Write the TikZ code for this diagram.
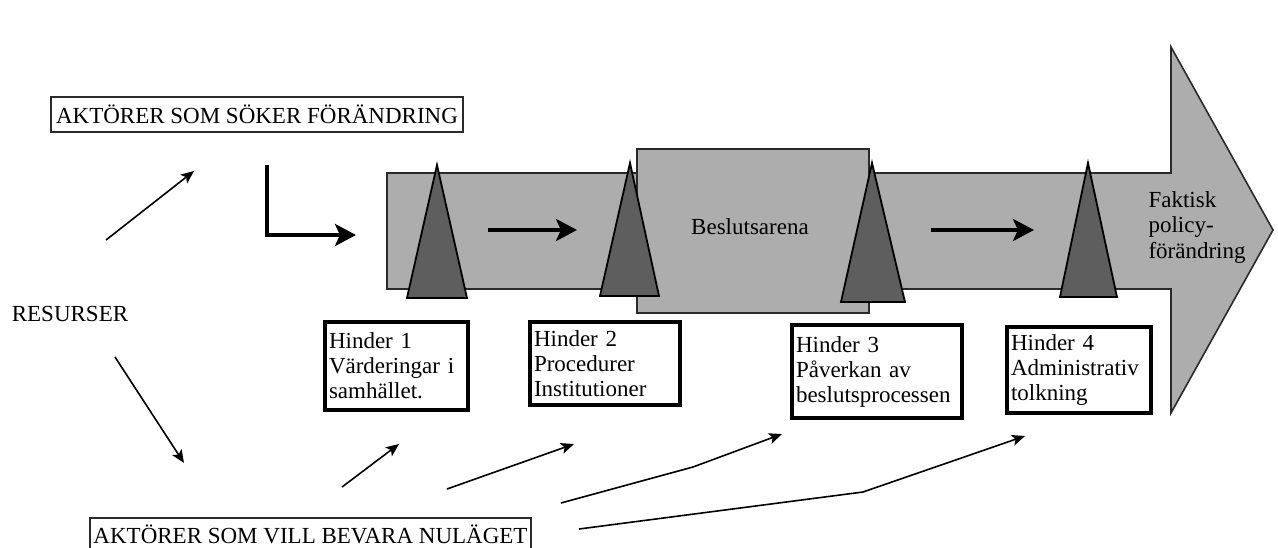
\documentclass[tikz,border=0pt]{standalone}
\usepackage{fontspec}
\setmainfont{Liberation Serif}
\usetikzlibrary{arrows.meta}
\definecolor{lgray}{HTML}{ADADAD}
\definecolor{dgray}{HTML}{5E5E5E}
\definecolor{edge}{HTML}{2A2A2A}
\tikzset{
  bigarrow/.style={fill=lgray, draw=edge, line width=1.6pt, line join=miter},
  arenabox/.style={fill=lgray, draw=edge, line width=1.8pt, inner sep=0pt},
  hindertri/.style={fill=dgray, draw=black, line width=1.8pt, line join=miter},
  labelbox/.style={draw=edge, line width=1.8pt, fill=white, inner sep=0pt},
  frameline/.style={draw=edge, line width=1.8pt, fill=white},
  hbox/.style={draw=black, line width=4pt, fill=white, inner xsep=4pt, inner ysep=0pt, align=left},
  thin/.style={line width=1.6pt, -{Stealth[length=13pt,width=11pt,inset=3pt]}},
  thick/.style={line width=4pt, line join=miter, -{Stealth[length=21pt,width=22pt,inset=5pt]}},
  txt/.style={font=\fontsize{23}{25}\selectfont}
}
\begin{document}
\begin{tikzpicture}[x=1pt,y=-1pt, every node/.style={txt}]
\useasboundingbox (0,0) rectangle (1278,547);
% big arrow
\draw[bigarrow] (387,173) -- (1171,173) -- (1171,47) -- (1273,230) -- (1171,413) -- (1171,289) -- (387,289) -- cycle;
\node[anchor=west, align=left, font=\fontsize{23}{25.5}\selectfont] (fak) at (1145,227) {Faktisk\\policy-\\förändring};
% arena
\node[arenabox, minimum width=232pt, minimum height=164pt] (arena) at (753,231) {};
\node (arenatxt) at (750,227) {Beslutsarena};
% triangles
\draw[hindertri] (437,165) -- (467,298) -- (407,298) -- cycle;
\draw[hindertri] (630,163) -- (659,296) -- (600,296) -- cycle;
\draw[hindertri] (872,163) -- (905,302) -- (841,302) -- cycle;
\draw[hindertri] (1088,163) -- (1117,297) -- (1060,297) -- cycle;
% thick arrows
\coordinate (l1) at (267,165);
\coordinate (l2) at (267,235);
\coordinate (l3) at (356,235);
\draw[thick] (l1) -- (l2) -- (l3);
\coordinate (m1) at (488,230);
\coordinate (m2) at (577,230);
\draw[thick] (m1) -- (m2);
\coordinate (n1) at (931,230);
\coordinate (n2) at (1034,230);
\draw[thick] (n1) -- (n2);
% labels
\node[labelbox, minimum width=412pt, minimum height=35pt] (seek) at (257,114.5) {AKTÖRER SOM SÖKER FÖRÄNDRING};
\begin{scope}
\clip (0,0) rectangle (1278,547);
\path[frameline] (90,518) rectangle (531,556);
\end{scope}
\node[inner sep=0pt, anchor=base] (keep) at (310.5,543) {AKTÖRER SOM VILL BEVARA NULÄGET};
\node (res) at (70,314) {RESURSER};
% hinder boxes
\node[hbox, text width=135pt, minimum height=88pt] (h1) at (396.5,366) {Hinder 1\\Värderingar i\\samhället.};
\node[hbox, text width=142pt, minimum height=83pt] (h2) at (605,363.5) {Hinder 2\\Procedurer\\Institutioner};
\node[hbox, text width=162pt, minimum height=93pt] (h3) at (877,371.5) {Hinder 3\\Påverkan av\\beslutsprocessen};
\node[hbox, text width=136pt, minimum height=86pt] (h4) at (1079,370) {Hinder 4\\Administrativ\\tolkning};
% resource arrows
\coordinate (r1a) at (106,240);
\coordinate (r1b) at (194,171);
\draw[thin] (r1a) -- (r1b);
\coordinate (r2a) at (115,357);
\coordinate (r2b) at (184,463);
\draw[thin] (r2a) -- (r2b);
% bottom arrows
\coordinate (b1a) at (342,487);
\coordinate (b1b) at (399,444);
\draw[thin] (b1a) -- (b1b);
\coordinate (b2a) at (447,489);
\coordinate (b2b) at (574,444);
\draw[thin] (b2a) -- (b2b);
\coordinate (b3a) at (561,503);
\coordinate (b3m) at (693,467);
\coordinate (b3b) at (782,434);
\draw[thin] (b3a) -- (b3m) -- (b3b);
\coordinate (b4a) at (579,529);
\coordinate (b4m) at (863,492);
\coordinate (b4b) at (1025,436);
\draw[thin] (b4a) -- (b4m) -- (b4b);
\end{tikzpicture}
\end{document}
